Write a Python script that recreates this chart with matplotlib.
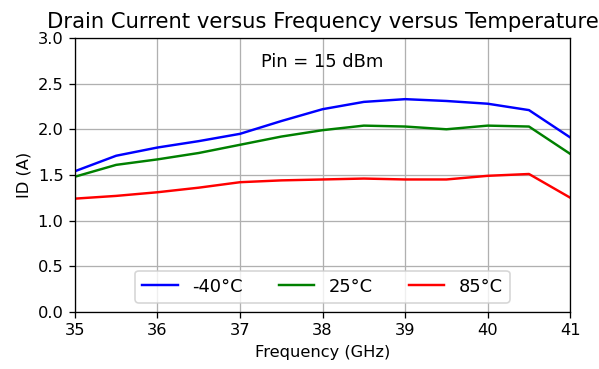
import matplotlib
matplotlib.use("Agg")
import matplotlib.pyplot as plt

freq = [35, 35.5, 36, 36.5, 37, 37.5, 38, 38.5, 39, 39.5, 40, 40.5, 41]
id_m40 = [1.54, 1.71, 1.80, 1.87, 1.95, 2.09, 2.22, 2.30, 2.33, 2.31, 2.28, 2.21, 1.91]
id_25 = [1.48, 1.61, 1.67, 1.74, 1.83, 1.92, 1.99, 2.04, 2.03, 2.00, 2.04, 2.03, 1.73]
id_85 = [1.24, 1.27, 1.31, 1.36, 1.42, 1.44, 1.45, 1.46, 1.45, 1.45, 1.49, 1.51, 1.25]
labels = ["-40°C", "25°C", "85°C"]

DPI = 117
fig, ax = plt.subplots(figsize=(599 / DPI, 369 / DPI), dpi=DPI)
ax.plot(freq, id_m40, color="blue", label=labels[0])
ax.plot(freq, id_25, color="green", label=labels[1])
ax.plot(freq, id_85, color="red", label=labels[2])
ax.set_xlim(35, 41)
ax.set_ylim(0, 3)
ax.set_xlabel("Frequency (GHz)")
ax.set_ylabel("ID (A)")
ax.set_title("Drain Current versus Frequency versus Temperature", fontsize=13)
ax.text(38, 2.74, "Pin = 15 dBm", ha="center", va="center", fontsize=11)
ax.grid(True)
ax.legend(loc="lower center", ncol=3, fontsize=11)
fig.subplots_adjust(left=0.125, right=0.952, top=0.897, bottom=0.155)
fig.savefig("out.png", dpi=DPI)
